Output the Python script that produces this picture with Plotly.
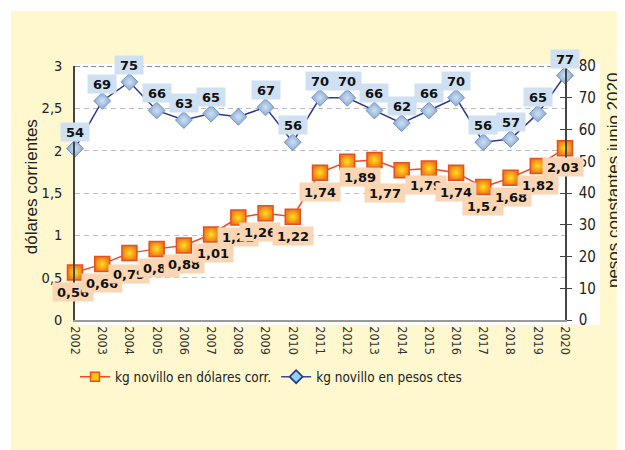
import plotly.graph_objects as go

years = list(range(2002, 2021))
usd_corr = [0.56, 0.66, 0.79, 0.84, 0.88, 1.01, 1.21, 1.26, 1.22, 1.74,
            1.87, 1.89, 1.77, 1.79, 1.74, 1.57, 1.68, 1.82, 2.03]
pesos_ctes = [54, 69, 75, 66, 63, 65, 64, 67, 56, 70,
              70, 66, 62, 66, 70, 56, 57, 65, 77]
left_ticks = [0, 0.5, 1, 1.5, 2, 2.5, 3]
right_ticks = [0, 10, 20, 30, 40, 50, 60, 70, 80]

name_usd = "kg novillo en dólares corr."
name_pes = "kg novillo en pesos ctes"
title_left = "dólares corrientes"
title_right = "pesos constantes junio 2020"

# label visibility / nudges (style only)
usd_hidden = {2012}
pes_hidden = {2008}
usd_xshift = {2002: -2, 2005: 2, 2007: 2, 2009: -6, 2013: -14, 2014: -17, 2015: -3, 2020: -2}
usd_yshift = {2004: -21, 2014: -23, 2013: -17, 2015: -17}

COND = "DejaVu Sans Condensed, Roboto, sans-serif"
REG = "Liberation Sans, Arial, sans-serif"

fig = go.Figure()
fig.add_trace(go.Scatter(
    x=years, y=usd_corr, name=name_usd, mode="lines+markers", showlegend=False,
    line=dict(color="#EF4B23", width=1.5),
    marker=dict(symbol="square", size=15, color="#F07A1A",
                gradient=dict(type="radial", color="#FFE21A"),
                line=dict(color="#E5501E", width=1.5)),
    cliponaxis=False, yaxis="y",
))
fig.add_trace(go.Scatter(
    x=years, y=pesos_ctes, name=name_pes, mode="lines+markers", showlegend=False,
    line=dict(color="#2B3A8C", width=1.5),
    marker=dict(symbol="diamond", size=13, color="#86A9D3",
                gradient=dict(type="radial", color="#CFE0F3"),
                line=dict(color="#7896C2", width=1)),
    cliponaxis=False, yaxis="y2",
))
# legend entries
fig.add_trace(go.Scatter(
    x=[None], y=[None], name=name_usd, mode="lines+markers",
    line=dict(color="#EF4B23", width=1.5),
    marker=dict(symbol="square", size=9, color="#FFC20E",
                line=dict(color="#E5501E", width=1.5)),
))
fig.add_trace(go.Scatter(
    x=[None], y=[None], name=name_pes, mode="lines+markers",
    line=dict(color="#3A4A93", width=1.5),
    marker=dict(symbol="diamond", size=10, color="#8ED3F2",
                line=dict(color="#2B3A8C", width=1.8)),
))

ann = []
for yr, v in zip(years, usd_corr):
    if yr in usd_hidden:
        continue
    ann.append(dict(x=yr, y=v, xref="x", yref="y", showarrow=False,
                    text=f"{v:.2f}".replace(".", ","),
                    font=dict(family="DejaVu Sans", size=13, color="#111", weight="bold"),
                    bgcolor="#FAD6B4", width=38, height=16, borderpad=1,
                    xanchor="center", yanchor="middle",
                    xshift=usd_xshift.get(yr, 0), yshift=usd_yshift.get(yr, -19)))
for yr, v in zip(years, pesos_ctes):
    if yr in pes_hidden:
        continue
    ann.append(dict(x=yr, y=v, xref="x", yref="y2", showarrow=False,
                    text=str(v),
                    font=dict(family="DejaVu Sans", size=13, color="#111", weight="bold"),
                    bgcolor="#CFE0F2", width=26, height=16, borderpad=1,
                    xanchor="center", yanchor="middle",
                    xshift=0, yshift=17))
ann.append(dict(x=-0.087, y=0.524, xref="paper", yref="paper", showarrow=False,
                text=title_left, textangle=-90, xanchor="center", yanchor="middle",
                font=dict(family=REG, size=17, color="#222")))
ann.append(dict(x=1.098, y=0.551, xref="paper", yref="paper", showarrow=False,
                text=title_right, textangle=-90, xanchor="center", yanchor="middle",
                font=dict(family=REG, size=17, color="#222")))

shapes = [
    dict(type="rect", xref="paper", yref="paper", x0=-0.1306, x1=1.2, y0=-0.6, y1=1.2165,
         fillcolor="#FFF8CF", line=dict(width=0), layer="below"),
    dict(type="rect", xref="paper", yref="paper", x0=0, x1=1.0714, y0=-0.0197, y1=1.008,
         fillcolor="#FFFFFF", line=dict(width=0), layer="below"),
    dict(type="line", xref="paper", yref="y", x0=0, x1=1, y0=3, y1=3,
         line=dict(color="#8A8A8A", width=2, dash="5px,3px"), layer="below"),
]

fig.update_layout(
    width=625, height=450,
    margin=dict(l=67, r=68, t=58, b=138),
    paper_bgcolor="#FFFFFF", plot_bgcolor="#FFFFFF",
    separators=",.",
    showlegend=True,
    legend=dict(orientation="h", x=0.0, xanchor="left", y=-0.224, yanchor="middle",
                font=dict(family=COND, size=13.5, color="#222"),
                bgcolor="rgba(0,0,0,0)"),
    xaxis=dict(range=[2002, 2020], tickmode="array", tickvals=years,
               ticktext=[str(y) for y in years], tickangle=90,
               tickfont=dict(family=COND, size=12.5, color="#333"),
               showgrid=False, showline=True, linecolor="#9A9A9A", linewidth=1.5,
               ticks="", zeroline=False, ticklabelstandoff=2),
    yaxis=dict(range=[0, 3], tickmode="array", tickvals=left_ticks,
               tickfont=dict(family=COND, size=14.5, color="#222"),
               showgrid=True, gridcolor="#BDBDBD", griddash="5px,4px", gridwidth=1,
               showline=True, linecolor="#444", linewidth=1.5, ticks="",
               zeroline=False, ticklabelstandoff=8),
    yaxis2=dict(range=[0, 80], tickmode="array", tickvals=right_ticks,
                overlaying="y", side="right", anchor="x",
                tickfont=dict(family=COND, size=15, color="#222"),
                showgrid=False, showline=True, linecolor="#444", linewidth=1.5,
                ticks="outside", ticklen=5, tickwidth=1.2, tickcolor="#444",
                zeroline=False, ticklabelstandoff=4),
    yaxis3=dict(range=[0, 80], tickmode="array", tickvals=right_ticks,
                overlaying="y", side="right", anchor="x", showticklabels=False,
                showgrid=False, showline=False, ticks="inside", ticklen=5,
                tickwidth=1.2, tickcolor="#444", zeroline=False),
    annotations=ann, shapes=shapes,
)
fig.add_trace(go.Scatter(x=[], y=[], yaxis="y3", showlegend=False, hoverinfo="skip"))

fig.write_html("out.html")
